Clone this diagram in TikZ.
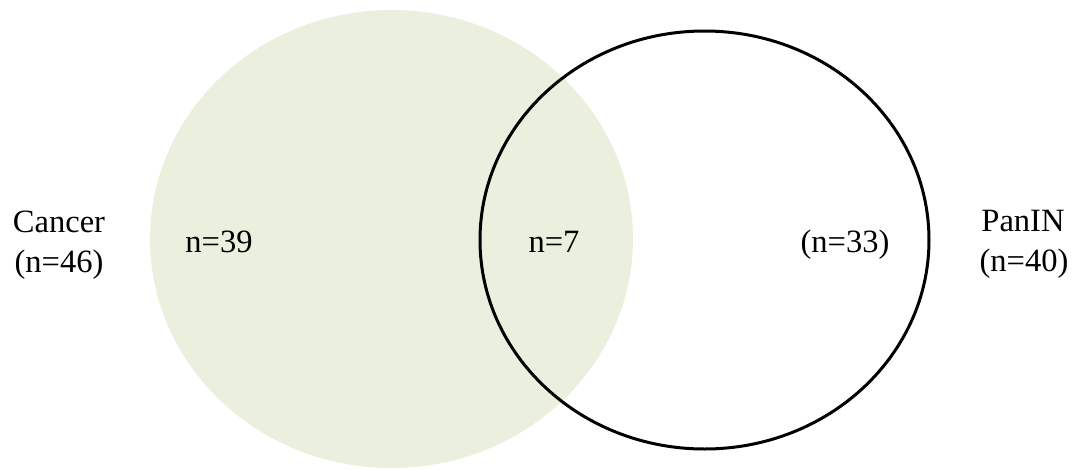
\documentclass[tikz,border=0pt]{standalone}
\usepackage{fontspec}
\setmainfont{Liberation Serif}
\definecolor{vennfill}{HTML}{EBF0DE}
\begin{document}
\begin{tikzpicture}[x=0.75pt,y=-0.75pt,
  lbl/.style={anchor=base,inner sep=0pt,font=\fontsize{24.4}{30}\selectfont}]
\useasboundingbox (0,0) rectangle (1076,469);
\fill[vennfill] (391.5,239) ellipse [x radius=241.5,y radius=229];
\draw[line width=2.25pt] (704.5,240) ellipse [x radius=224.5,y radius=209];
\node[lbl] (cancer) at (59,232) {Cancer};
\node[lbl] (cancern) at (59,272) {(n=46)};
\node[lbl] (n39) at (219,252) {n=39};
\node[lbl] (n7) at (554,252) {n=7};
\node[lbl] (n33) at (845,252) {(n=33)};
\node[lbl] (panin) at (1023,231) {PanIN};
\node[lbl] (panin2) at (1024,271) {(n=40)};
\end{tikzpicture}
\end{document}
